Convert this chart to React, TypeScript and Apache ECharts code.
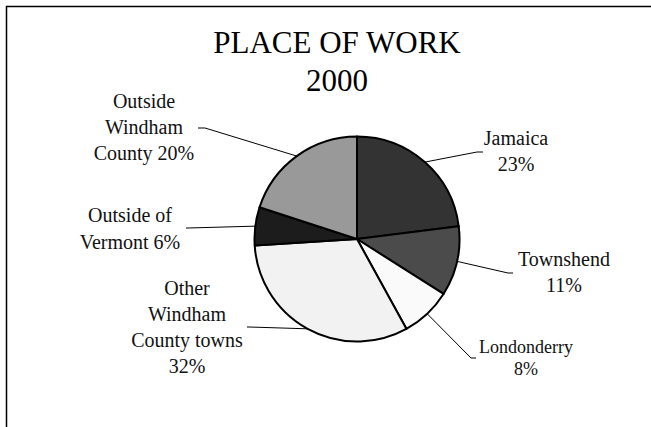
import React, { useEffect, useRef } from "react";
import * as echarts from "echarts";

const titleLines = ["PLACE OF WORK", "2000"];
const categories = [
  "Jamaica",
  "Townshend",
  "Londonderry",
  "Other Windham County towns",
  "Outside of Vermont",
  "Outside Windham County",
];
const values = [23, 11, 8, 32, 6, 20];
// label text split into lines as in the picture
const labelNames = [
  "Jamaica",
  "Townshend",
  "Londonderry",
  "Other\nWindham\nCounty towns",
  "Outside of\nVermont",
  "Outside\nWindham\nCounty",
];
const labelSeparators = ["\n", "\n", "\n", "\n", " ", " "];

const sliceColors = ["#333333", "#4b4b4b", "#fafafa", "#f2f2f2", "#1c1c1c", "#999999"];

// label placement (centre of text block) and leader-line elbow points
const labelPos: Array<{ x: number; y: number; pts: number[][]; fs: number; lh: number }> = [
  { x: 516, y: 151, pts: [[477, 152], [483, 152]], fs: 20, lh: 26 },
  { x: 564, y: 272, pts: [[508, 273], [513, 273]], fs: 20, lh: 26 },
  { x: 526, y: 358, pts: [[471, 358], [476, 358]], fs: 18, lh: 22 },
  { x: 187, y: 327, pts: [[249, 327], [247, 327]], fs: 20, lh: 26 },
  { x: 130, y: 228, pts: [[188, 228], [186, 228]], fs: 20, lh: 27 },
  { x: 144, y: 127, pts: [[205, 128], [198, 128]], fs: 20, lh: 26 },
];

export default function App() {
  const ref = useRef<HTMLDivElement>(null);
  useEffect(() => {
    if (!ref.current) return;
    const chart = echarts.init(ref.current, null, { renderer: "svg" });
    const font = "'Liberation Serif', 'Times New Roman', serif";
    chart.setOption({
      animation: false,
      backgroundColor: "#ffffff",
      title: {
        text: titleLines.join("\n"),
        left: 332,
        top: 18,
        textAlign: "center",
        textStyle: {
          fontFamily: font,
          fontSize: 31,
          fontWeight: "normal",
          lineHeight: 38,
          color: "#000",
        },
      },
      graphic: [
        {
          type: "rect",
          shape: { x: 6.5, y: 6.5, width: 700, height: 500 },
          style: { fill: "none", stroke: "#000", lineWidth: 1.5 },
          silent: true,
        },
      ],
      series: [
        {
          type: "pie",
          center: [357, 239],
          radius: 102.5,
          startAngle: 90,
          clockwise: true,
          avoidLabelOverlap: false,
          itemStyle: { borderColor: "#000", borderWidth: 2 },
          label: {
            show: true,
            position: "outside",
            fontFamily: font,
            color: "#111",
            formatter: (p: any) =>
              labelNames[p.dataIndex] + labelSeparators[p.dataIndex] + p.value + "%",
          },
          labelLine: {
            show: true,
            length: 20,
            length2: 10,
            lineStyle: { color: "#000", width: 1 },
          },
          labelLayout: (params: any) => {
            const lp = labelPos[params.dataIndex];
            const start = params.labelLinePoints ? params.labelLinePoints[0] : lp.pts[0];
            return {
              x: lp.x,
              y: lp.y,
              align: "center",
              verticalAlign: "middle",
              fontSize: lp.fs,
              labelLinePoints: [start, lp.pts[0], lp.pts[1]],
            };
          },
          data: categories.map((name, i) => ({
            name,
            value: values[i],
            itemStyle: { color: sliceColors[i] },
            label: { fontSize: labelPos[i].fs, lineHeight: labelPos[i].lh },
          })),
        },
      ],
    });
    return () => chart.dispose();
  }, []);
  return (
    <div
      ref={ref}
      style={{ position: "fixed", left: 0, top: 0, width: 651, height: 427 }}
    />
  );
}
